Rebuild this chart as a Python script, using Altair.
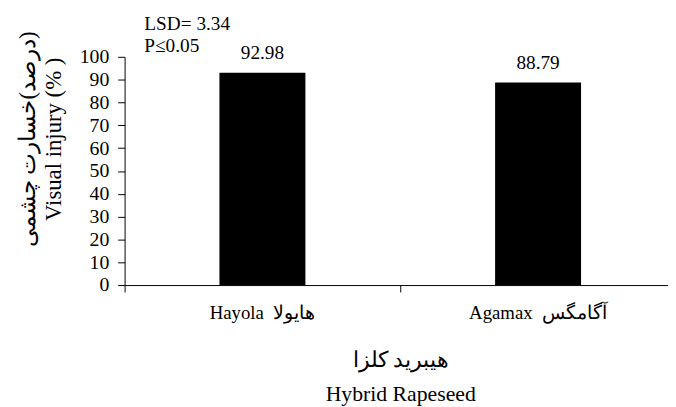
import altair as alt
import pandas as pd

cultivars = ["Hayola\u00a0\u00a0هایولا", "Agamax\u00a0\u00a0آگامگس"]
values = [92.98, 88.79]
value_labels = ["92.98", "88.79"]
y_ticks = list(range(0, 101, 10))
lsd_lines = ["LSD= 3.34", "P\u22640.05"]
y_title = ["\u200f(درصد)خسارت چشمی\u200f", "Visual injury (% )"]
x_title = ["هیبرید کلزا", "Hybrid Rapeseed"]

df = pd.DataFrame({"cultivar": cultivars, "value": values, "label": value_labels})

FONT = "Liberation Serif"

x_enc = alt.X(
    "cultivar:N",
    sort=None,
    scale=alt.Scale(range=[0, 558], paddingInner=0, paddingOuter=0),
    axis=alt.Axis(
        title=x_title,
        labelAngle=0,
        bandPosition=0,
        tickSize=7,
        labelPadding=27,
        labelBaseline="alphabetic",
        labelFontSize=19,
        labelColor="black",
        labelFont=FONT,
        titleFont=FONT,
        titleFontSize=22,
        titleFontWeight="normal",
        titleColor="black",
        titleBaseline="alphabetic",
        titleLineHeight=35,
        titleX=279,
        titleY=82,
        titleAnchor="middle",
        domainColor="black",
        tickColor="black",
    ),
)

y_enc = alt.Y(
    "value:Q",
    scale=alt.Scale(domain=[0, 100], nice=False),
    axis=alt.Axis(
        title=y_title,
        values=y_ticks,
        labelOverlap=False,
        tickSize=7,
        labelPadding=9,
        labelFontSize=20,
        labelColor="black",
        labelFont=FONT,
        titleFont=FONT,
        titleFontSize=23,
        titleFontWeight="normal",
        titleColor="black",
        titleBaseline="alphabetic",
        titleAngle=270,
        titleLineHeight=26,
        titleX=-91,
        titleY=83,
        titleAlign="center",
        grid=False,
        domainColor="black",
        tickColor="black",
    ),
)

bars = alt.Chart(df).mark_bar(color="black", size=87).encode(x=x_enc, y=y_enc)
texts = alt.Chart(df).mark_text(
    baseline="alphabetic", dy=-14, fontSize=19.5, font=FONT, color="black"
).encode(x=x_enc, y=y_enc, text="label:N")

chart = (
    alt.layer(bars, texts)
    .properties(
        width=550,
        height=231,
        title=alt.Title(
            lsd_lines,
            anchor="start",
            frame="group",
            dx=20,
            dy=27,
            offset=2,
            fontSize=19.5,
            font=FONT,
            fontWeight="normal",
            color="black",
            lineHeight=23,
        ),
        autosize=alt.AutoSizeParams(type="none"),
        padding={"left": 118, "top": 47, "right": 0, "bottom": 120},
    )
    .configure_view(stroke=None)
)

chart.save("out.html", embed_options={"renderer": "svg", "actions": False})
